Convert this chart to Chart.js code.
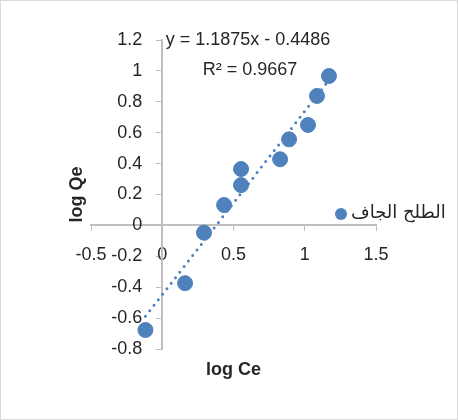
<!DOCTYPE html>
<html>
<head>
<meta charset="utf-8">
<script src="https://cdn.jsdelivr.net/npm/chart.js@4.4.1/dist/chart.umd.min.js"></script>
<style>
  body { margin: 0; background: #fff; }
  #wrap { width: 458px; height: 420px; }
</style>
</head>
<body>
<div id="wrap"><canvas id="chart" width="458" height="420"></canvas></div>
<script>
// data
const seriesName = "الطلح الجاف";
const logCe = [-0.118, 0.16, 0.293, 0.434, 0.553, 0.553, 0.827, 0.89, 1.023, 1.086, 1.17];
const logQe = [-0.677, -0.374, -0.047, 0.132, 0.261, 0.365, 0.428, 0.557, 0.65, 0.838, 0.967];
const slope = 1.1875;
const intercept = -0.4486;
const equationText = ["y = 1.1875x - 0.4486", "R² = 0.9667"];

const blue = "#4f81bd";
const axisGray = "#bfbfbf";
const textColor = "#262626";
const tickFont = { family: "'Liberation Sans', Arial, sans-serif", size: 18 };

// trendline only spans the data range
const xMin = Math.min(...logCe);
const xMax = Math.max(...logCe);
const trendPoints = [xMin, xMax].map(x => ({ x: x, y: slope * x + intercept }));

// Excel style numbers: 1 not 1.0
const fmt = v => String(parseFloat(v.toFixed(1)));

// custom bits: axis titles, equation, legend, frame
const extras = {
  id: "extras",
  afterDraw(chart) {
    const ctx = chart.ctx;
    const area = chart.chartArea;
    ctx.save();
    ctx.fillStyle = textColor;
    ctx.textAlign = "center";
    ctx.textBaseline = "middle";

    // equation + R²
    ctx.font = "18px 'Liberation Sans', Arial, sans-serif";
    ctx.fillText(equationText[0], 248, 40);
    ctx.fillText(equationText[1], 250, 70);

    // axis titles
    ctx.font = "bold 18px 'Liberation Sans', Arial, sans-serif";
    ctx.fillText("log Ce", (area.left + area.right) / 2, 370);
    ctx.save();
    ctx.translate(77, (area.top + area.bottom) / 2);
    ctx.rotate(-Math.PI / 2);
    ctx.fillText("log Qe", 0, 0);
    ctx.restore();

    // legend
    ctx.fillStyle = blue;
    ctx.beginPath();
    ctx.arc(341, 214, 6, 0, Math.PI * 2);
    ctx.fill();
    ctx.fillStyle = textColor;
    ctx.textAlign = "left";
    ctx.font = "18px 'DejaVu Sans', sans-serif";
    ctx.fillText(seriesName, 351, 213);

    // chart frame
    ctx.strokeStyle = "#d9d9d9";
    ctx.lineWidth = 1;
    ctx.strokeRect(0.5, 0.5, chart.width - 1, chart.height - 1);
    ctx.restore();
  }
};

new Chart(document.getElementById("chart"), {
  type: "scatter",
  data: {
    datasets: [
      {
        label: seriesName,
        data: logCe.map((x, i) => ({ x: x, y: logQe[i] })),
        backgroundColor: blue,
        borderColor: blue,
        pointRadius: 7.5,
        pointHoverRadius: 7.5
      },
      {
        label: "trend",
        type: "line",
        data: trendPoints,
        borderColor: blue,
        borderWidth: 3,
        borderDash: [0, 7],
        borderCapStyle: "round",
        pointRadius: 0,
        fill: false
      }
    ]
  },
  options: {
    responsive: false,
    animation: false,
    layout: { padding: { left: 91, right: 82, top: 40, bottom: 71 } },
    plugins: {
      legend: { display: false },
      tooltip: { enabled: false }
    },
    scales: {
      x: {
        type: "linear",
        min: -0.5,
        max: 1.5,
        position: { y: 0 },
        ticks: {
          stepSize: 0.5,
          color: textColor,
          padding: 14,
          font: tickFont,
          callback: v => fmt(v)
        },
        grid: { drawOnChartArea: false, color: axisGray, tickLength: 5 },
        border: { color: axisGray, width: 2 }
      },
      y: {
        type: "linear",
        min: -0.8,
        max: 1.2,
        position: { x: 0 },
        ticks: {
          stepSize: 0.2,
          color: textColor,
          font: tickFont,
          // labels sit flush on a crossing axis, so push them off the line
          callback: v => fmt(v) + "    "
        },
        grid: { drawOnChartArea: false, color: axisGray, tickLength: 5 },
        border: { color: axisGray, width: 2 }
      }
    }
  },
  plugins: [extras]
});
</script>
</body>
</html>
